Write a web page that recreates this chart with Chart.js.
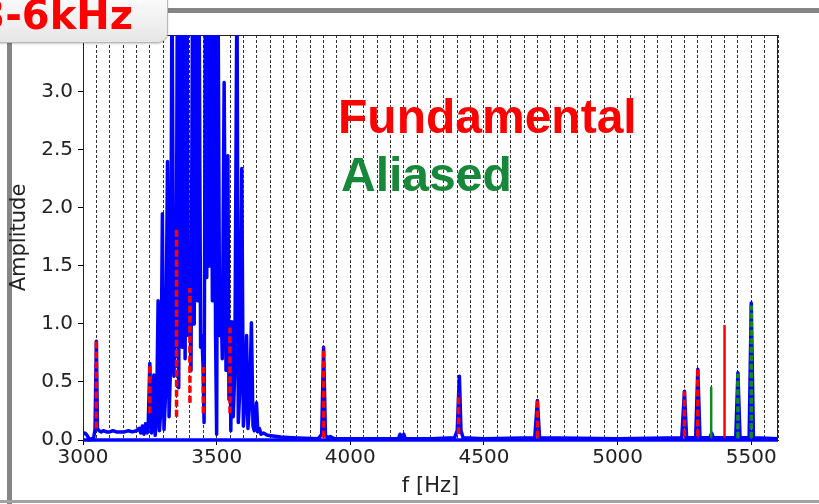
<!DOCTYPE html>
<html lang="en">
<head>
  <meta charset="UTF-8" />
  <title>3-6kHz spectrum</title>
  <script src="https://cdn.jsdelivr.net/npm/chart.js"></script>
  <style>
    * { margin: 0; padding: 0; box-sizing: border-box; }
    body { background: #fff; overflow: hidden; }
    #wrap { position: relative; width: 819px; height: 504px; overflow: hidden; }
    #wrap canvas { position: absolute; left: 0; top: 0; z-index: 2; }
    .bar { position: absolute; z-index: 1; }
    #tag {
      position: absolute; left: -30px; top: -12px; width: 198px; height: 55px; z-index: 3;
      border: 1.5px solid #b8b8b8; border-radius: 10px;
      background: linear-gradient(#ffffff, #e6e6e6);
      box-shadow: 0 1px 2px rgba(0, 0, 0, 0.2);
    }
    #tagText {
      position: absolute; right: 686px; top: -5px; z-index: 4; white-space: nowrap;
      font: bold 40px/40px "DejaVu Sans", sans-serif; color: #ff0000;
    }
    .note {
      position: absolute; z-index: 4; white-space: nowrap;
      font: bold 48px/48px "Liberation Sans", Arial, sans-serif;
    }
  </style>
</head>
<body>
  <div id="wrap">
    <div class="bar" style="left:0; top:8px; width:819px; height:5px; background:#858585;"></div>
    <div class="bar" style="left:7px; top:40px; width:5px; height:464px; background:#858585;"></div>
    <div class="bar" style="left:0; top:500px; width:819px; height:3px; background:#a3a3a3;"></div>
    <div id="tag"></div>
    <div id="tagText">3-6kHz</div>
    <div class="note" style="left:338px; top:93px; color:#ff0000;">Fundamental</div>
    <div class="note" style="left:341px; top:151px; color:#17873a;">Aliased</div>
    <canvas id="chart" width="819" height="504"></canvas>
  </div>

  <script>
    // axis limits / ticks
    const xMin = 3000, xMax = 5600, harmonicStep = 50;
    const xTickVals = [3000, 3500, 4000, 4500, 5000, 5500];
    const yMin = 0, yMax = 3.49;
    const yTickVals = [0, 0.5, 1.0, 1.5, 2.0, 2.5, 3.0];

    // measured spectrum (blue)
    const specFreq = [
      3000, 3006, 3012, 3018, 3024, 3032, 3040, 3045, 3050, 3054, 3060, 3068, 3076, 3088, 3100,
      3112, 3125, 3140, 3155, 3170, 3185, 3200, 3210, 3216, 3222, 3228, 3234, 3240, 3244, 3250,
      3256, 3260, 3265, 3270, 3275, 3281, 3286, 3291, 3297, 3303, 3309, 3316, 3322, 3327, 3333,
      3340, 3345, 3350, 3353, 3358, 3365, 3371, 3377, 3382, 3389, 3394, 3399, 3404, 3410, 3416,
      3422, 3428, 3434, 3440, 3445, 3449, 3453, 3458, 3463, 3468, 3473, 3478, 3484, 3490, 3496,
      3500, 3505, 3511, 3516, 3521, 3528, 3535, 3542, 3546, 3550, 3553, 3557, 3562, 3568, 3576,
      3581, 3587, 3594, 3600, 3605, 3612, 3617, 3623, 3630, 3636, 3641, 3649, 3654, 3660, 3666,
      3675, 3690, 3710, 3740, 3780, 3830, 3880, 3893, 3900, 3907, 3915, 3925, 3940, 4000, 4100,
      4180, 4186, 4192, 4200, 4206, 4300, 4390, 4400, 4408, 4414, 4422, 4500, 4690, 4700, 4708,
      5000, 5240, 5250, 5258, 5292, 5300, 5308, 5345, 5352, 5358, 5442, 5450, 5458, 5492, 5500,
      5508, 5600
    ];
    const specAmp = [
      0.05, 0.06, 0.05, 0.03, 0.00, 0.01, 0.02, 0.09, 0.85, 0.10, 0.08, 0.07, 0.08, 0.07, 0.07,
      0.08, 0.07, 0.07, 0.07, 0.08, 0.07, 0.08, 0.10, 0.06, 0.12, 0.05, 0.14, 0.06, 0.13, 0.66,
      0.06, 0.15, 0.56, 0.04, 0.18, 1.20, 0.08, 0.25, 1.95, 0.09, 0.40, 2.40, 0.20, 0.60, 4.00,
      0.55, 0.90, 1.85, 4.00, 0.45, 4.00, 0.80, 4.00, 0.70, 4.00, 0.90, 1.33, 0.60, 4.00, 1.00,
      4.00, 1.20, 4.00, 0.80, 0.90, 0.64, 0.15, 4.00, 1.40, 4.00, 1.50, 4.00, 1.20, 4.00, 0.90,
      0.05, 4.00, 0.90, 1.30, 0.70, 3.08, 0.60, 2.45, 0.35, 0.98, 0.08, 1.02, 0.20, 0.60, 4.00,
      0.15, 0.45, 2.34, 0.12, 0.30, 0.90, 0.10, 0.30, 1.01, 0.12, 0.08, 0.32, 0.07, 0.10, 0.05,
      0.06, 0.04, 0.035, 0.025, 0.02, 0.015, 0.01, 0.05, 0.80, 0.04, 0.02, 0.03, 0.01, 0.01, 0.01,
      0.01, 0.05, 0.01, 0.05, 0.01, 0.01, 0.02, 0.08, 0.55, 0.08, 0.02, 0.01, 0.02, 0.34, 0.02,
      0.01, 0.02, 0.42, 0.02, 0.02, 0.61, 0.02, 0.02, 0.06, 0.02, 0.02, 0.58, 0.02, 0.02, 1.18,
      0.02, 0.01
    ];

    // fundamental components (red) and aliased components (green)
    const fundFreq = [3050, 3250, 3350, 3400, 3450, 3550, 3900, 4405, 4700, 5250, 5300, 5400];
    const fundAmp = [0.85, 0.66, 1.83, 1.31, 0.63, 0.97, 0.80, 0.40, 0.34, 0.42, 0.61, 0.99];
    const fundLow = [0.10, 0.23, 0.20, 0.32, 0.23, 0.23, 0.02, 0.05, 0.02, 0.03, 0.03, 0.02];
    const aliasFreq = [5350, 5450, 5500];
    const aliasAmp = [0.46, 0.57, 1.16];
    const aliasLow = [0.02, 0.02, 0.02];

    function stems(freqs, amps, lows) {
      const pts = [];
      freqs.forEach((f, i) => {
        pts.push({ x: f, y: lows[i] }, { x: f, y: amps[i] }, { x: f, y: null });
      });
      return pts;
    }

    // is there a blue peak under this marker? (dashes only show blue where there is one)
    function bluePeakAt(f) {
      return specFreq.some((s, i) => Math.abs(s - f) <= 4 && specAmp[i] > 0.2);
    }

    const spectrum = specFreq.map((f, i) => ({ x: f, y: specAmp[i] }));

    const frameBox = {
      id: 'frameBox',
      beforeDatasetsDraw(chart) {
        const { ctx, chartArea: a } = chart;
        ctx.save();
        ctx.strokeStyle = '#222';
        ctx.lineWidth = 1;
        ctx.strokeRect(a.left + 0.5, a.top + 0.5, a.right - a.left - 1, a.bottom - a.top);
        ctx.restore();
      }
    };

    const tickFont = { family: 'DejaVu Sans', size: 20 };
    const titleFont = { family: 'DejaVu Sans', size: 21 };

    const stemSegment = (dash) => ({
      borderDash: c => bluePeakAt(c.p0.parsed.x) ? dash : [],
      borderWidth: c => bluePeakAt(c.p0.parsed.x) ? 3.5 : 2.5
    });

    new Chart(document.getElementById('chart'), {
      type: 'line',
      data: {
        datasets: [
          {
            label: 'Fundamental', data: stems(fundFreq, fundAmp, fundLow), order: 0,
            borderColor: '#ff0000', borderWidth: 3.5, pointRadius: 0,
            segment: stemSegment([7, 3])
          },
          {
            label: 'Aliased', data: stems(aliasFreq, aliasAmp, aliasLow), order: 1,
            borderColor: '#128a22', borderWidth: 3.5, pointRadius: 0,
            segment: stemSegment([6, 2.5])
          },
          {
            label: 'Spectrum', data: spectrum, order: 2,
            borderColor: '#0000ff', borderWidth: 3.5, pointRadius: 0,
            borderJoinStyle: 'round', clip: { left: 0, right: 0, top: 0, bottom: 3 }
          },
          {
            label: 'Zero', data: [{ x: xMin, y: 0 }, { x: xMax, y: 0 }], order: 3,
            borderColor: '#0000ff', borderWidth: 3.5, pointRadius: 0,
            clip: { left: 0, right: 0, top: 0, bottom: 3 }
          }
        ]
      },
      options: {
        responsive: false,
        animation: false,
        devicePixelRatio: 1,
        layout: { padding: { left: 0, top: 35, right: 41, bottom: 0 } },
        plugins: { legend: { display: false }, tooltip: { enabled: false } },
        scales: {
          x: {
            type: 'linear', min: xMin, max: xMax,
            afterFit: s => { s.height = 64; },
            afterBuildTicks: s => { s.ticks = xTickVals.map(v => ({ value: v })); },
            ticks: {
              color: '#222', font: tickFont, padding: 1,
              maxRotation: 0, autoSkip: false, callback: v => String(v)
            },
            grid: { drawOnChartArea: false, tickLength: 5, color: '#000' },
            border: { color: '#222' },
            title: { display: true, text: 'f [Hz]', color: '#222', font: titleFont, padding: { top: 0, bottom: 5 } }
          },
          harm: {
            type: 'linear', axis: 'x', position: 'bottom', min: xMin, max: xMax,
            afterFit: s => { s.height = 0; },
            ticks: { display: false, stepSize: harmonicStep, autoSkip: false },
            grid: { drawTicks: false, color: '#333', lineWidth: 1 },
            border: { display: false, dash: [3, 2] }
          },
          y: {
            min: yMin, max: yMax,
            afterFit: s => { s.width = 83; },
            afterBuildTicks: s => { s.ticks = yTickVals.map(v => ({ value: v })); },
            ticks: {
              color: '#222', font: tickFont, padding: 5,
              callback: v => v.toFixed(1)
            },
            grid: { drawOnChartArea: false, tickLength: 5, color: '#000' },
            border: { color: '#222' },
            title: { display: true, text: 'Amplitude', color: '#222', font: titleFont, padding: { top: 7, bottom: 0 } }
          }
        }
      },
      plugins: [frameBox]
    });
  </script>
</body>
</html>
